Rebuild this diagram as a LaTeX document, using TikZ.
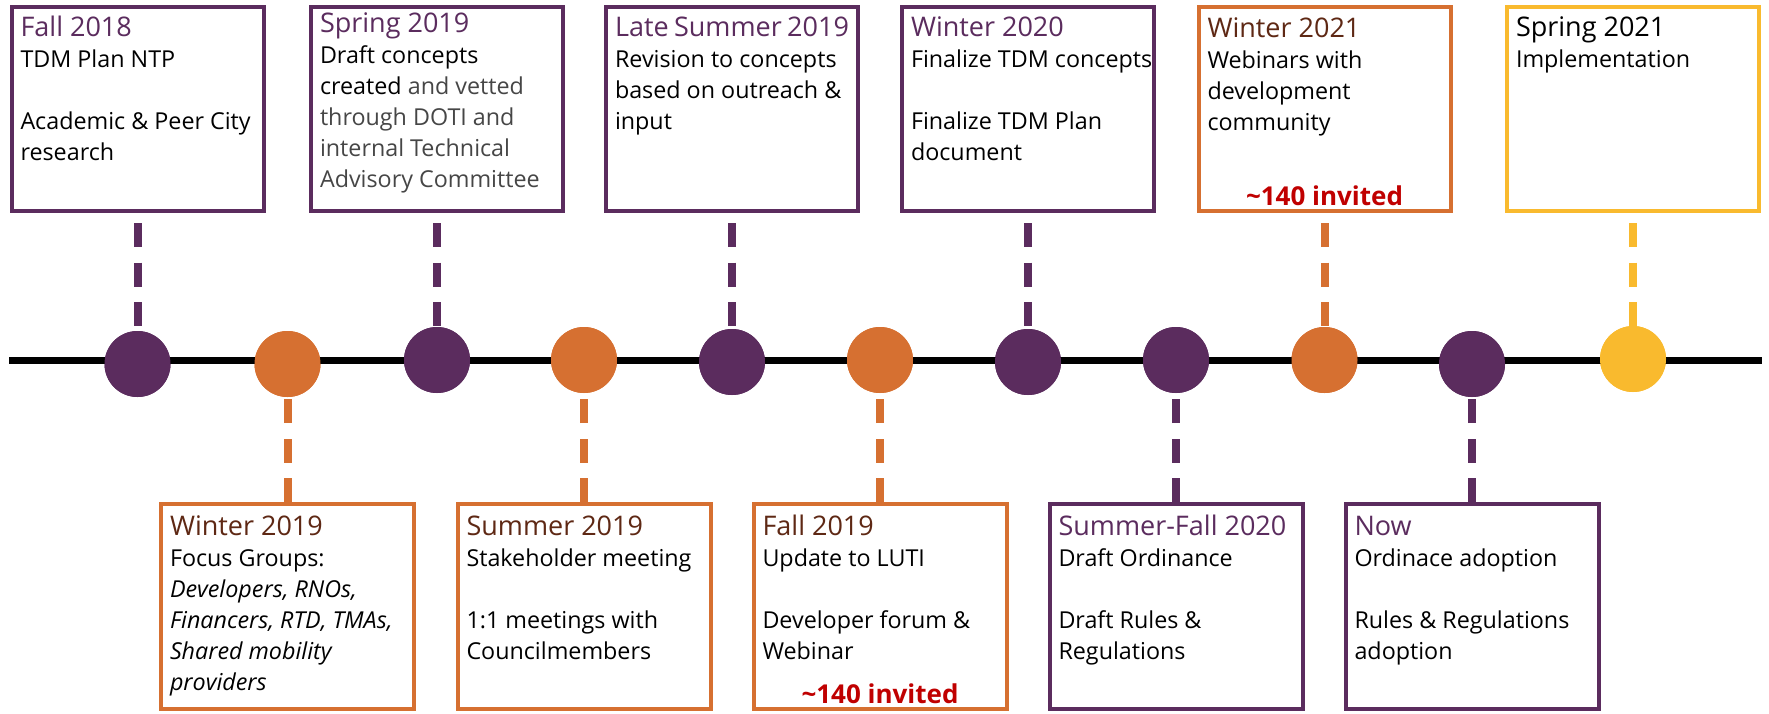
\documentclass[tikz,border=0pt]{standalone}
\usepackage{fontspec}
\setmainfont{Open Sans}
\usepackage{xcolor}
\definecolor{tpurple}{RGB}{91,44,94}
\definecolor{torange}{RGB}{214,112,49}
\definecolor{tyellow}{RGB}{249,186,46}
\definecolor{tbrown}{RGB}{94,40,20}
\definecolor{tred}{RGB}{192,0,0}
\definecolor{tlight}{RGB}{70,70,70}
\newcommand\boxtitle[3]{\noindent\rule{0pt}{#1}\textcolor{#2}{\fontsize{27}{31}\selectfont #3}\par}
\newcommand\boxline[1]{\noindent\mbox{#1}\par}
\newcommand\boxgap{\noindent\mbox{}\par}
\newcommand\boxnote{\vfill\noindent\makebox[\linewidth][c]{\textcolor{tred}{\bfseries\fontsize{26}{31}\selectfont\textasciitilde140 invited}}\par\vspace*{5pt}}
\newenvironment{boxbody}[2]{\begin{minipage}[t][#2][t]{#1}\fontsize{23.3}{31}\selectfont\setlength{\parskip}{0pt}\setlength{\parindent}{0pt}}{\end{minipage}}
\newcommand\lt[1]{\textcolor{tlight}{#1}}
\begin{document}
\begin{tikzpicture}[x=1pt,y=-1pt,
  tbox/.style={draw=#1, line width=4pt, fill=white, inner xsep=9pt, inner ysep=0pt, outer sep=0pt, anchor=north},
  dot/.style={circle, fill=#1, draw=none, minimum size=66pt, inner sep=0pt, outer sep=0pt},
  conn/.style={draw=#1, line width=8pt, dash pattern=on 24pt off 15.5pt},
  axisline/.style={line width=7pt, draw=black}]
\useasboundingbox (0,0) rectangle (1769,713);

% top boxes
\node[tbox=tpurple] (b1) at (137.5,7) {\begin{boxbody}{234pt}{204pt}
\boxtitle{29pt}{tpurple}{Fall 2018}
\boxline{TDM Plan NTP}
\boxgap
\boxline{Academic \& Peer City}
\boxline{research}
\end{boxbody}};
\node[tbox=tpurple] (b2) at (437,7) {\begin{boxbody}{234pt}{204pt}
\boxtitle{25pt}{tpurple}{Spring 2019}
\boxline{Draft concepts}
\boxline{created \lt{and vetted}}
\boxline{\lt{through DOTI and}}
\boxline{\lt{internal Technical}}
\boxline{\lt{Advisory Committee}}
\end{boxbody}};
\node[tbox=tpurple] (b3) at (732,7) {\begin{boxbody}{234pt}{204pt}
\boxtitle{29pt}{tpurple}{Late Summer 2019}
\boxline{Revision to concepts}
\boxline{based on outreach \&}
\boxline{input}
\end{boxbody}};
\node[tbox=tpurple] (b4) at (1028,7) {\begin{boxbody}{234pt}{204pt}
\boxtitle{29pt}{tpurple}{Winter 2020}
\boxline{Finalize TDM concepts}
\boxgap
\boxline{Finalize TDM Plan}
\boxline{document}
\end{boxbody}};
\node[tbox=torange] (b5) at (1324.5,7) {\begin{boxbody}{234pt}{204pt}
\boxtitle{30pt}{tbrown}{Winter 2021}
\boxline{Webinars with}
\boxline{development}
\boxline{community}
\boxnote
\end{boxbody}};
\node[tbox=tyellow] (b6) at (1633,7) {\begin{boxbody}{234pt}{204pt}
\boxtitle{29pt}{black}{Spring 2021}
\boxline{Implementation}
\end{boxbody}};

% bottom boxes
\node[tbox=torange] (c1) at (287.5,504) {\begin{boxbody}{235pt}{205pt}
\boxtitle{31pt}{tbrown}{Winter 2019}
\boxline{Focus Groups:}
\boxline{\itshape Developers, RNOs,}
\boxline{\itshape Financers, RTD, TMAs,}
\boxline{\itshape Shared mobility}
\boxline{\itshape providers}
\end{boxbody}};
\node[tbox=torange] (c2) at (584,504) {\begin{boxbody}{235pt}{205pt}
\boxtitle{31pt}{tbrown}{Summer 2019}
\boxline{Stakeholder meeting}
\boxgap
\boxline{1:1 meetings with}
\boxline{Councilmembers}
\end{boxbody}};
\node[tbox=torange] (c3) at (880,504) {\begin{boxbody}{235pt}{205pt}
\boxtitle{31pt}{tbrown}{Fall 2019}
\boxline{Update to LUTI}
\boxgap
\boxline{Developer forum \&}
\boxline{Webinar}
\boxnote
\end{boxbody}};
\node[tbox=tpurple] (c4) at (1176,504) {\begin{boxbody}{235pt}{205pt}
\boxtitle{31pt}{tpurple}{Summer-Fall 2020}
\boxline{Draft Ordinance}
\boxgap
\boxline{Draft Rules \&}
\boxline{Regulations}
\end{boxbody}};
\node[tbox=tpurple] (c5) at (1472,504) {\begin{boxbody}{235pt}{205pt}
\boxtitle{31pt}{tpurple}{Now}
\boxline{Ordinace adoption}
\boxgap
\boxline{Rules \& Regulations}
\boxline{adoption}
\end{boxbody}};

% timeline circles (positions)
\coordinate (axl) at (9,360.5);
\coordinate (axr) at (1762,360.5);
\path (137.5,364) coordinate (p1) (287.5,364) coordinate (p2) (437,360) coordinate (p3)
      (584,360) coordinate (p4) (732,362) coordinate (p5) (880,360) coordinate (p6)
      (1028,362) coordinate (p7) (1176,360) coordinate (p8) (1324.5,360) coordinate (p9)
      (1472,364) coordinate (p10) (1633,359) coordinate (p11);
\node[dot=tpurple] (d1) at (p1) {};
\node[dot=torange] (d2) at (p2) {};
\node[dot=tpurple] (d3) at (p3) {};
\node[dot=torange] (d4) at (p4) {};
\node[dot=tpurple] (d5) at (p5) {};
\node[dot=torange] (d6) at (p6) {};
\node[dot=tpurple] (d7) at (p7) {};
\node[dot=tpurple] (d8) at (p8) {};
\node[dot=torange] (d9) at (p9) {};
\node[dot=tpurple] (d10) at (p10) {};
\node[dot=tyellow] (d11) at (p11) {};

% connectors
\begin{scope}[on background layer/.style={}]
\draw[conn=tpurple, shorten <=12pt] (b1.south) -- (d1.north);
\draw[conn=tpurple, shorten <=12pt] (b2.south) -- (d3.north);
\draw[conn=tpurple, shorten <=12pt] (b3.south) -- (d5.north);
\draw[conn=tpurple, shorten <=12pt] (b4.south) -- (d7.north);
\draw[conn=torange, shorten <=12pt] (b5.south) -- (d9.north);
\draw[conn=tyellow, shorten <=12pt] (b6.south) -- (d11.north);
\draw[conn=torange, shorten <=2pt] (c1.north) -- (d2.south);
\draw[conn=torange, shorten <=2pt] (c2.north) -- (d4.south);
\draw[conn=torange, shorten <=2pt] (c3.north) -- (d6.south);
\draw[conn=tpurple, shorten <=2pt] (c4.north) -- (d8.south);
\draw[conn=tpurple, shorten <=2pt] (c5.north) -- (d10.south);
\end{scope}

% axis line drawn, then circles redrawn on top
\draw[axisline] (axl) -- (axr);
\foreach \i/\c in {1/tpurple,2/torange,3/tpurple,4/torange,5/tpurple,6/torange,7/tpurple,8/tpurple,9/torange,10/tpurple,11/tyellow}
  \fill[\c] (d\i.center) circle[radius=33pt];
\end{tikzpicture}
\end{document}
